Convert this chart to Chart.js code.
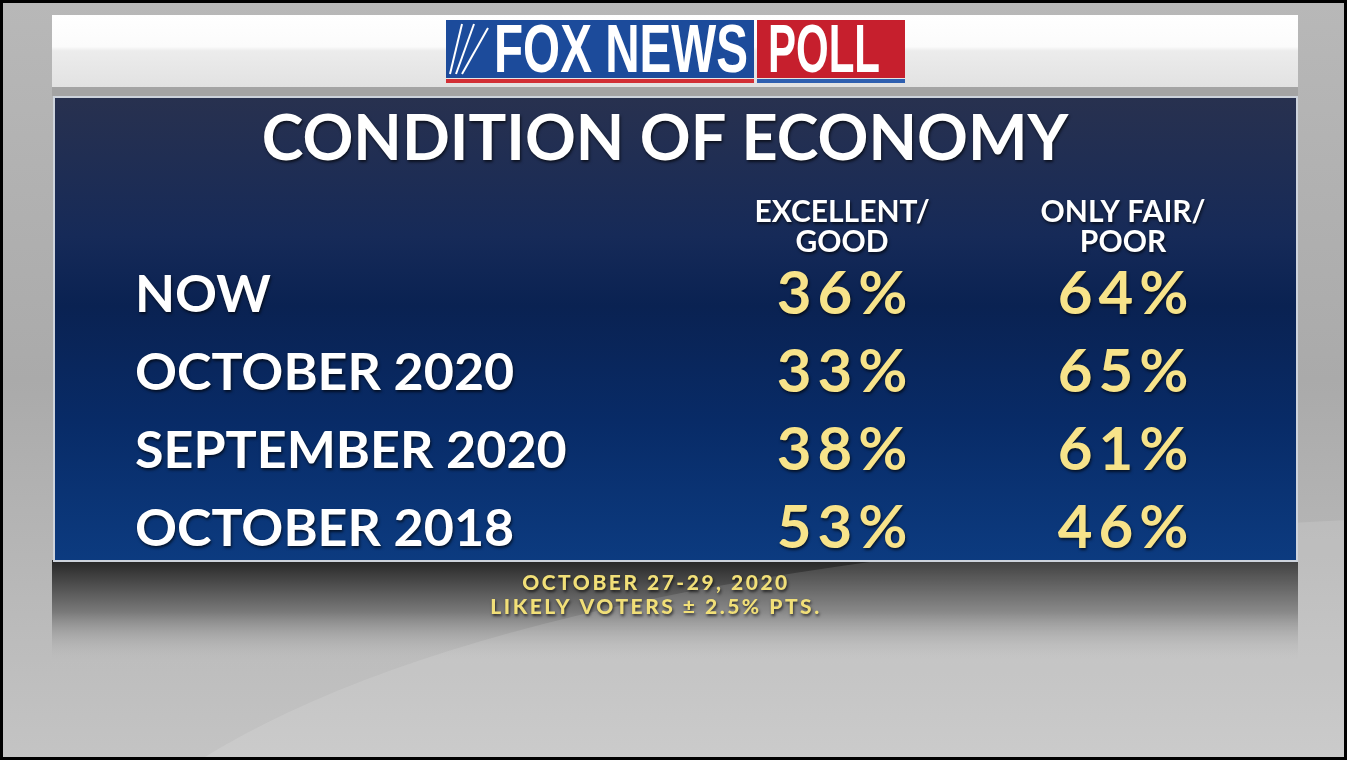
<!DOCTYPE html>
<html>
<head>
<meta charset="utf-8">
<title>Condition of Economy</title>
<script src="https://cdn.jsdelivr.net/npm/chart.js@4.4.1/dist/chart.umd.min.js"></script>
<style>
  html, body { margin: 0; padding: 0; background: #b5b5b5; }
  #wrap { width: 1347px; height: 760px; }
</style>
</head>
<body>
<div id="wrap"><canvas id="poll" width="1347" height="760"></canvas></div>
<script>
// poll numbers
const rowLabels = ["NOW", "OCTOBER 2020", "SEPTEMBER 2020", "OCTOBER 2018"];
const columnLabels = [["EXCELLENT/", "GOOD"], ["ONLY FAIR/", "POOR"]];
const excellentGood = [36, 33, 38, 53];
const onlyFairPoor = [64, 65, 61, 46];
const titleText = "CONDITION OF ECONOMY";
const footerLines = ["OCTOBER 27-29, 2020", "LIKELY VOTERS \u00b1 2.5% PTS."];

const WHITE = "#ffffff";
const GOLD = "#f7e38a";
const FONT = "Lato, 'Noto Sans', sans-serif";

// squeeze a string into a given width (logo lettering)
function fitText(ctx, text, x, y, width, size) {
  ctx.font = "bold " + size + "px 'Liberation Sans Narrow', 'Liberation Sans', sans-serif";
  const m = ctx.measureText(text).width;
  ctx.save();
  ctx.translate(x, y);
  ctx.scale(width / m, 1);
  ctx.fillText(text, 0, 0);
  ctx.restore();
}

function textShadow(ctx) {
  ctx.shadowColor = "rgba(0,0,0,0.65)";
  ctx.shadowBlur = 3;
  ctx.shadowOffsetX = 1;
  ctx.shadowOffsetY = 2;
}

const backdrop = {
  id: "backdrop",
  beforeDraw(chart) {
    const ctx = chart.ctx;
    const w = chart.width, h = chart.height;
    ctx.save();

    // studio grey
    let g = ctx.createLinearGradient(0, 0, 0, h);
    g.addColorStop(0, "#b8b8b8");
    g.addColorStop(0.5, "#aaaaaa");
    g.addColorStop(1, "#c4c4c4");
    ctx.fillStyle = g;
    ctx.fillRect(0, 0, w, h);

    // dark shadow under the panel
    g = ctx.createLinearGradient(0, 560, 0, 665);
    g.addColorStop(0, "#262626");
    g.addColorStop(0.5, "#7a7a7a");
    g.addColorStop(1, "rgba(196,196,196,0)");
    ctx.fillStyle = g;
    ctx.fillRect(52, 560, 1246, 105);

    // soft swoosh
    ctx.fillStyle = "rgba(255,255,255,0.12)";
    ctx.beginPath();
    ctx.moveTo(200, 760);
    ctx.quadraticCurveTo(520, 560, 1347, 520);
    ctx.lineTo(1347, 760);
    ctx.closePath();
    ctx.fill();

    // header strip
    ctx.fillStyle = "#a4a4a4";
    ctx.fillRect(52, 87, 1246, 9);
    g = ctx.createLinearGradient(0, 15, 0, 87);
    g.addColorStop(0, "#ffffff");
    g.addColorStop(0.44, "#fbfbfb");
    g.addColorStop(0.5, "#ececec");
    g.addColorStop(1, "#e2e2e2");
    ctx.fillStyle = g;
    ctx.fillRect(52, 15, 1246, 72);

    // logo
    ctx.fillStyle = "#1c4b9b";
    ctx.fillRect(446, 20, 308, 58);
    ctx.fillStyle = "#c61f2d";
    ctx.fillRect(757, 20, 148, 58);
    ctx.fillStyle = "#d22f35";
    ctx.fillRect(446, 79, 308, 4);
    ctx.fillStyle = "#2f5fb0";
    ctx.fillRect(757, 79, 148, 4);
    ctx.fillStyle = WHITE;
    fitText(ctx, "FOX NEWS", 494, 72, 254, 68);
    fitText(ctx, "POLL", 768, 72, 112, 68);
    ctx.strokeStyle = WHITE;
    ctx.lineWidth = 2;
    [[450, 74, 462, 24], [456, 74, 474, 24], [462, 74, 488, 28]].forEach(function (l) {
      ctx.beginPath();
      ctx.moveTo(l[0], l[1]);
      ctx.lineTo(l[2], l[3]);
      ctx.stroke();
    });

    // blue board
    g = ctx.createLinearGradient(0, 97, 0, 561);
    g.addColorStop(0, "#28314f");
    g.addColorStop(0.3, "#162a58");
    g.addColorStop(0.45, "#0a2252");
    g.addColorStop(0.7, "#082b67");
    g.addColorStop(1, "#0c3b80");
    ctx.fillStyle = g;
    ctx.fillRect(54, 97, 1243, 464);
    ctx.strokeStyle = "#cdd3dc";
    ctx.lineWidth = 2;
    ctx.strokeRect(54, 97, 1243, 464);

    // frame
    ctx.strokeStyle = "#000000";
    ctx.lineWidth = 3;
    ctx.strokeRect(1.5, 1.5, w - 3, h - 3);
    ctx.restore();

    // dark edge on the lettering that follows
    textShadow(ctx);
  },
  afterDraw(chart) {
    chart.ctx.shadowColor = "rgba(0,0,0,0)";
  }
};

// the percentages, placed on each point of the grid
const cellText = {
  id: "cellText",
  afterDatasetsDraw(chart) {
    const ctx = chart.ctx;
    ctx.save();
    ctx.font = "bold 60px " + FONT;
    ctx.letterSpacing = "6px";
    ctx.fillStyle = GOLD;
    ctx.textAlign = "center";
    ctx.textBaseline = "middle";
    chart.data.datasets.forEach(function (ds, i) {
      chart.getDatasetMeta(i).data.forEach(function (pt, j) {
        ctx.fillText(ds.data[j].v + "%", pt.x + 3, pt.y);
      });
    });
    ctx.restore();
  }
};

// field dates and margin under the board
const footer = {
  id: "footer",
  afterDraw(chart) {
    const ctx = chart.ctx;
    const a = chart.chartArea;
    ctx.save();
    textShadow(ctx);
    ctx.font = "900 21px " + FONT;
    ctx.letterSpacing = "2.5px";
    ctx.fillStyle = "#f1df78";
    ctx.textAlign = "center";
    ctx.textBaseline = "middle";
    footerLines.forEach(function (t, i) {
      ctx.fillText(t, 656, a.bottom + 54 + i * 24);
    });
    ctx.restore();
  }
};

const series = [excellentGood, onlyFairPoor];
const datasets = series.map(function (vals, col) {
  return {
    label: columnLabels[col].join(" "),
    data: vals.map(function (v, row) { return { x: col, y: row, v: v }; }),
    pointRadius: 0,
    pointHoverRadius: 0
  };
});

const noGrid = { display: false, drawTicks: false };

new Chart(document.getElementById("poll"), {
  type: "scatter",
  data: { datasets: datasets },
  options: {
    responsive: false,
    animation: false,
    events: [],
    layout: { padding: { left: 80.5, right: 97.5, top: 0, bottom: 231 } },
    plugins: {
      legend: { display: false },
      tooltip: { enabled: false },
      title: {
        display: true,
        text: titleText,
        color: WHITE,
        font: { family: FONT, size: 63, weight: "bold", lineHeight: 1.2 },
        padding: { top: 102.2, bottom: 0 }
      }
    },
    scales: {
      x: {
        type: "linear",
        position: "top",
        min: -0.5,
        max: 1.45,
        grid: noGrid,
        border: { display: false },
        afterBuildTicks: function (s) { s.ticks = columnLabels.map(function (c, i) { return { value: i }; }); },
        afterFit: function (s) { s.height = 117.2; },
        ticks: {
          color: WHITE,
          padding: 38,
          autoSkip: false,
          maxRotation: 0,
          font: { family: FONT, size: 30, weight: "bold", lineHeight: 1 },
          callback: function (v) { return columnLabels[v]; }
        }
      },
      y: {
        type: "linear",
        position: "left",
        min: 0,
        max: 3,
        reverse: true,
        grid: noGrid,
        border: { display: false },
        afterBuildTicks: function (s) { s.ticks = rowLabels.map(function (r, i) { return { value: i }; }); },
        afterFit: function (s) { s.width = 566.5; },
        ticks: {
          color: WHITE,
          crossAlign: "far",
          autoSkip: false,
          font: { family: FONT, size: 52, weight: "bold" },
          callback: function (v) { return rowLabels[v]; }
        }
      },
      gutter: {
        type: "linear",
        position: "left",
        weight: 10,
        grid: noGrid,
        border: { display: false },
        ticks: { display: false },
        afterFit: function (s) { s.width = 54.5; }
      }
    }
  },
  plugins: [backdrop, cellText, footer]
});
</script>
</body>
</html>
